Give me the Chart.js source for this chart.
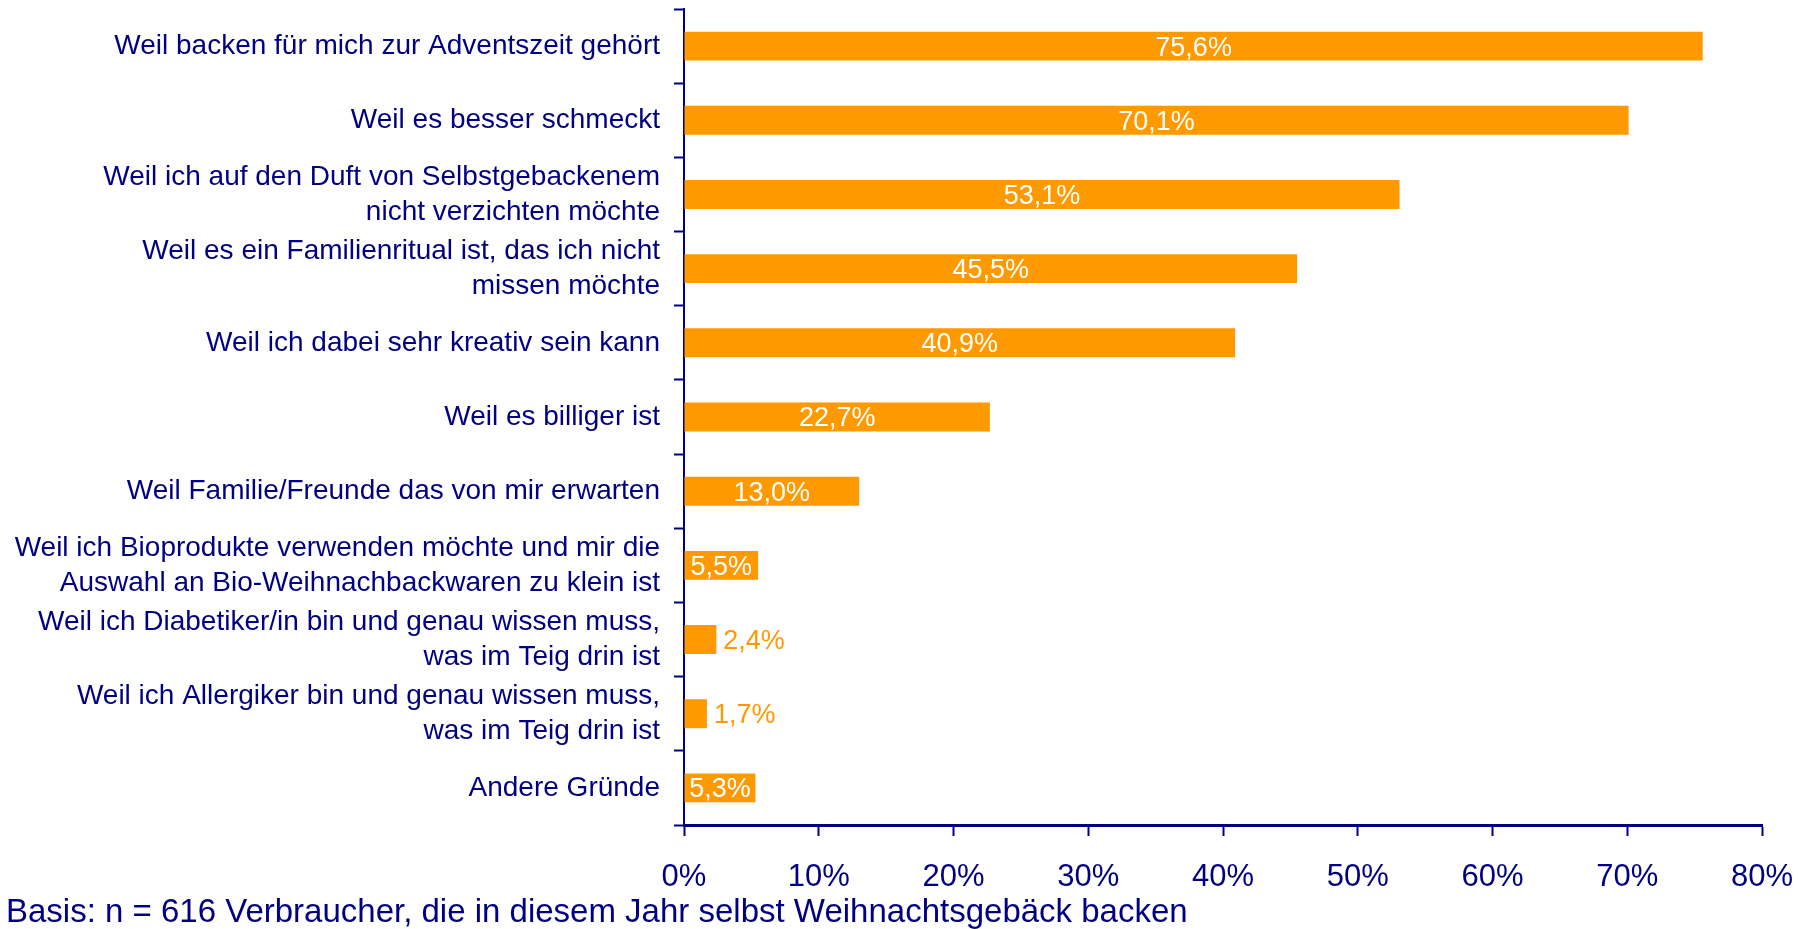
<!DOCTYPE html>
<html>
<head>
<meta charset="utf-8">
<script src="https://cdn.jsdelivr.net/npm/chart.js@4"></script>
<style>
  html, body { margin: 0; padding: 0; background: #fff; }
  #wrap { width: 1814px; height: 929px; }
</style>
</head>
<body>
<div id="wrap"><canvas id="myChart"></canvas></div>
<script>
// Data and Axis config
const barColor = '#FF9900';
const navy = '#000080';
const fontName = "'Liberation Sans', Arial, sans-serif";

const reasons = [
  'Weil backen für mich zur Adventszeit gehört',
  'Weil es besser schmeckt',
  ['Weil ich auf den Duft von Selbstgebackenem', 'nicht verzichten möchte'],
  ['Weil es ein Familienritual ist, das ich nicht', 'missen möchte'],
  'Weil ich dabei sehr kreativ sein kann',
  'Weil es billiger ist',
  'Weil Familie/Freunde das von mir erwarten',
  ['Weil ich Bioprodukte verwenden möchte und mir die', 'Auswahl an Bio-Weihnachbackwaren zu klein ist'],
  ['Weil ich Diabetiker/in bin und genau wissen muss,', 'was im Teig drin ist'],
  ['Weil ich Allergiker bin und genau wissen muss,', 'was im Teig drin ist'],
  'Andere Gründe'
];
const shares = [75.6, 70.1, 53.1, 45.5, 40.9, 22.7, 13.0, 5.5, 2.4, 1.7, 5.3];
const xTicks = [0, 10, 20, 30, 40, 50, 60, 70, 80];
const footnote = 'Basis: n = 616 Verbraucher, die in diesem Jahr selbst Weihnachtsgebäck backen';

// plugin to write the values on (or next to) the bars
const barValues = {
  id: 'bar_values',
  afterDatasetsDraw: (chart) => {
    const ctx = chart.ctx;
    const meta = chart.getDatasetMeta(0);
    ctx.save();
    ctx.font = '27px ' + fontName;
    ctx.textBaseline = 'middle';
    meta.data.forEach((bar, i) => {
      const v = shares[i];
      const txt = v.toFixed(1).replace('.', ',') + '%';
      if (v > 5) {
        ctx.fillStyle = '#ffffff';
        ctx.textAlign = 'center';
        ctx.fillText(txt, (bar.x + bar.base) / 2, bar.y + 2);
      } else {
        ctx.fillStyle = barColor;
        ctx.textAlign = 'left';
        ctx.fillText(txt, bar.x + 7, bar.y + 2);
      }
    });
    ctx.restore();
  }
};

var ctx = document.getElementById('myChart').getContext('2d');
var chart = new Chart(ctx, {
  type: 'bar',
  data: {
    labels: reasons,
    datasets: [{
      data: shares,
      backgroundColor: barColor,
      borderWidth: 0,
      categoryPercentage: 1,
      barPercentage: 0.39
    }]
  },
  plugins: [barValues],
  options: {
    indexAxis: 'y',
    responsive: true,
    maintainAspectRatio: false,
    animation: false,
    layout: { padding: { left: 6, right: 52, top: 9, bottom: 0 } },
    plugins: {
      legend: { display: false },
      tooltip: { enabled: false },
      title: {
        display: true,
        text: footnote,
        position: 'bottom',
        align: 'start',
        color: navy,
        font: { family: fontName, size: 33, weight: 'normal', lineHeight: 1 },
        padding: 0
      }
    },
    scales: {
      x: {
        min: 0,
        max: 80,
        afterBuildTicks: (scale) => { scale.ticks = xTicks.map(v => ({ value: v })); },
        afterFit: (scale) => {
          scale.height = 71;
          scale.paddingTop = 0;
          scale.paddingBottom = 0;
          scale.paddingLeft = 0;
          scale.paddingRight = 0;
        },
        ticks: {
          color: navy,
          font: { family: fontName, size: 31, lineHeight: 1 },
          padding: 26,
          maxRotation: 0,
          callback: (v) => v + '%'
        },
        grid: { drawOnChartArea: false, tickLength: 11, tickColor: navy, tickWidth: 2 },
        border: { color: navy, width: 3 }
      },
      y: {
        afterFit: (scale) => {
          scale.width = 678;
          scale.paddingTop = 0;
          scale.paddingBottom = 0;
        },
        ticks: {
          color: navy,
          font: { family: fontName, size: 28, lineHeight: 1.25 },
          padding: 14,
          autoSkip: false
        },
        grid: { drawOnChartArea: false, offset: true, tickLength: 10, tickColor: navy, tickWidth: 2 },
        border: { color: navy, width: 2 }
      }
    }
  }
});
</script>
</body>
</html>
